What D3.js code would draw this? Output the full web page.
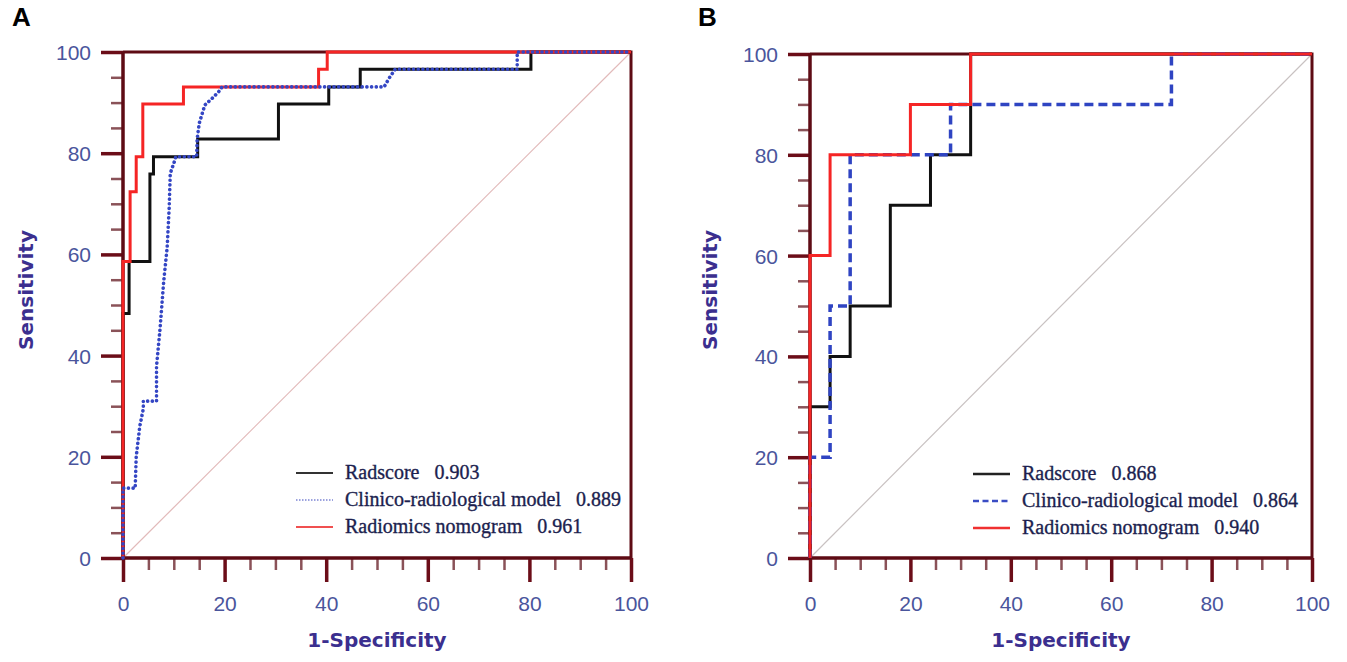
<!DOCTYPE html>
<html lang="en">
<head>
    <meta charset="UTF-8">
    <title>ROC curves</title>
    <script src="https://cdnjs.cloudflare.com/ajax/libs/d3/7.8.5/d3.min.js"></script>
    <style>
        body { margin: 0; background: #fff; }
        svg { display: block; }
        .tick text { font-family: "Liberation Sans", Arial, sans-serif; font-size: 21px; fill: #4a559c; }
        .axis-title { font-family: "DejaVu Sans", Verdana, sans-serif; font-size: 20px; font-weight: bold; fill: #3b2f8f; }
        .legend text { font-family: "Liberation Serif", "Times New Roman", serif; font-size: 20px; fill: #1c1f4f; stroke: #1c1f4f; stroke-width: 0.35px; }
        .panel-label { font-family: "Liberation Sans", Arial, sans-serif; font-size: 26px; font-weight: bold; fill: #000; }
    </style>
</head>
<body>
<svg id="chart" width="1347" height="662"></svg>
<script>
    // ---- data (1-specificity %, sensitivity %) ----
    const majorTicks = [0, 20, 40, 60, 80, 100];
    const minorTicks = d3.range(0, 101, 5).filter(d => d % 20 !== 0);

    // panel A - training cohort
    const radA_fpr = [0, 0, 1.2, 1.2, 5.3, 5.3, 6.0, 6.0, 14.7, 14.7, 30.6, 30.6, 40.5, 40.5, 46.7, 46.7, 80.3, 80.3, 100];
    const radA_tpr = [0, 48.3, 48.3, 58.6, 58.6, 75.9, 75.9, 79.3, 79.3, 82.8, 82.8, 89.7, 89.7, 93.1, 93.1, 96.6, 96.6, 100, 100];

    const clinA_fpr = [0, 0, 2.4, 2.6, 3.3, 4.0, 4.0, 6.6, 6.6, 7.3, 8.0, 8.7, 9.1, 9.3, 10.2, 10.4, 14.5, 14.6, 15.0, 16.1, 17.5, 18.8, 19.5, 51.4, 52.5, 53.6, 77.6, 77.6, 100];
    const clinA_tpr = [0, 13.8, 13.8, 20.0, 26.0, 29.5, 31.0, 31.0, 37.9, 45.4, 54.5, 61.5, 69.4, 76.0, 78.6, 79.3, 79.3, 82.8, 85.9, 89.5, 90.8, 92.1, 93.1, 93.1, 95.0, 96.6, 96.6, 100, 100];

    const nomoA_fpr = [0, 0, 1.4, 1.4, 2.6, 2.6, 3.9, 3.9, 11.9, 11.9, 38.5, 38.5, 40.2, 40.2, 100];
    const nomoA_tpr = [0, 58.6, 58.6, 72.4, 72.4, 79.3, 79.3, 89.7, 89.7, 93.1, 93.1, 96.6, 96.6, 100, 100];

    // panel B - validation cohort
    const radB_fpr = [0, 0, 4, 4, 8, 8, 16, 16, 24, 24, 32, 32, 100];
    const radB_tpr = [0, 30, 30, 40, 40, 50, 50, 70, 70, 80, 80, 100, 100];

    const clinB_fpr = [0, 0, 4, 4, 8, 8, 28, 28, 72, 72, 100];
    const clinB_tpr = [0, 20, 20, 50, 50, 80, 80, 90, 90, 100, 100];

    const nomoB_fpr = [0, 0, 4, 4, 20, 20, 32, 32, 100];
    const nomoB_tpr = [0, 60, 60, 80, 80, 90, 90, 100, 100];

    const legendNames = ["Radscore", "Clinico-radiological model", "Radiomics nomogram"];
    const aucA = ["0.903", "0.889", "0.961"];
    const aucB = ["0.868", "0.864", "0.940"];

    // ---- drawing ----
    const svg = d3.select("#chart");
    const frameColor = "#5e0b14";
    const majorColor = "#6b0d18";
    const minorColor = "#8a5258";

    const zip = (xs, ys) => xs.map((x, i) => [x, ys[i]]);

    function drawPanel(opt) {
        const x = d3.scaleLinear().domain([0, 100]).range(opt.xr);
        const y = d3.scaleLinear().domain([0, 100]).range(opt.yr);
        const g = svg.append("g");

        // diagonal reference
        g.append("line")
            .attr("x1", x(0)).attr("y1", y(0))
            .attr("x2", x(100)).attr("y2", y(100))
            .attr("stroke", opt.diagColor)
            .attr("stroke-width", 1.2);

        // minor ticks
        const minorB = g.append("g").attr("transform", `translate(0,${y(0)})`)
            .call(d3.axisBottom(x).tickValues(minorTicks).tickSize(12).tickFormat(""));
        const minorL = g.append("g").attr("transform", `translate(${x(0)},0)`)
            .call(d3.axisLeft(y).tickValues(minorTicks).tickSize(12).tickFormat(""));
        [minorB, minorL].forEach(a => {
            a.select(".domain").remove();
            a.selectAll("line").attr("stroke", minorColor).attr("stroke-width", 2.5);
        });

        // major ticks + labels
        const majorB = g.append("g").attr("transform", `translate(0,${y(0)})`)
            .call(d3.axisBottom(x).tickValues(majorTicks).tickSize(24).tickPadding(14));
        const majorL = g.append("g").attr("transform", `translate(${x(0)},0)`)
            .call(d3.axisLeft(y).tickValues(majorTicks).tickSize(22).tickPadding(10));
        [majorB, majorL].forEach(a => {
            a.select(".domain").remove();
            a.selectAll("line").attr("stroke", majorColor).attr("stroke-width", 3.5);
        });
        majorL.selectAll("text").attr("dy", "0.36em");

        // frame
        g.append("path")
            .attr("d", `M${x(0)},${y(100)}H${x(100)}V${y(0)}`)
            .attr("fill", "none").attr("stroke", frameColor).attr("stroke-width", 3);
        g.append("path")
            .attr("d", `M${x(0)},${y(100)}V${y(0)}H${x(100)}`)
            .attr("fill", "none").attr("stroke", frameColor).attr("stroke-width", 3.5);

        // curves
        const line = d3.line().x(d => x(d[0])).y(d => y(d[1]));
        opt.curves.forEach(c => {
            g.append("path")
                .datum(c.pts)
                .attr("d", line)
                .attr("fill", "none")
                .attr("stroke", c.color)
                .attr("stroke-width", c.width)
                .attr("stroke-dasharray", c.dash || null)
                .attr("stroke-linecap", c.cap || "butt")
                .attr("stroke-linejoin", "miter");
        });

        // legend
        const lg = g.append("g").attr("class", "legend");
        opt.legend.forEach((l, i) => {
            const ly = opt.legendY + i * 27;
            lg.append("line")
                .attr("x1", opt.legendX).attr("x2", opt.legendX + 37)
                .attr("y1", ly).attr("y2", ly)
                .attr("stroke", l.color).attr("stroke-width", l.width)
                .attr("stroke-dasharray", l.dash || null);
            const t = lg.append("text")
                .attr("x", opt.legendX + 49).attr("y", ly + 6);
            t.append("tspan").text(legendNames[i]);
            t.append("tspan").attr("dx", 15).text(opt.auc[i]);
        });

        // axis titles
        g.append("text").attr("class", "axis-title")
            .attr("x", (opt.xr[0] + opt.xr[1]) / 2).attr("y", 647)
            .attr("text-anchor", "middle").text("1-Specificity");
        g.append("text").attr("class", "axis-title")
            .attr("transform", `translate(${opt.yTitleX},290) rotate(-90)`)
            .attr("text-anchor", "middle").text("Sensitivity");

        g.append("text").attr("class", "panel-label")
            .attr("x", opt.labelX).attr("y", 26).text(opt.label);
    }

    drawPanel({
        label: "A", labelX: 12,
        xr: [123, 631], yr: [558, 52],
        diagColor: "#e2baba",
        yTitleX: 33,
        legendX: 296, legendY: 473, auc: aucA,
        curves: [
            { pts: zip(radA_fpr, radA_tpr), color: "#111111", width: 3 },
            { pts: zip(nomoA_fpr, nomoA_tpr), color: "#f52525", width: 3 },
            { pts: zip(clinA_fpr, clinA_tpr), color: "#3446c4", width: 3.6, dash: "0.1 4.6", cap: "round" }
        ],
        legend: [
            { color: "#333333", width: 2.2 },
            { color: "#7c84d4", width: 1.6, dash: "1.5 1.5" },
            { color: "#f05050", width: 2.2 }
        ]
    });

    drawPanel({
        label: "B", labelX: 698,
        xr: [810, 1312], yr: [558, 54],
        diagColor: "#c9c2c2",
        yTitleX: 717,
        legendX: 973, legendY: 474, auc: aucB,
        curves: [
            { pts: zip(radB_fpr, radB_tpr), color: "#111111", width: 3 },
            { pts: zip(clinB_fpr, clinB_tpr), color: "#2f44c2", width: 3.5, dash: "9 5" },
            { pts: zip(nomoB_fpr, nomoB_tpr), color: "#f52525", width: 3 }
        ],
        legend: [
            { color: "#222222", width: 2.4 },
            { color: "#3a4cc4", width: 2.4, dash: "6 3.5" },
            { color: "#f03030", width: 2.4 }
        ]
    });
</script>
</body>
</html>
